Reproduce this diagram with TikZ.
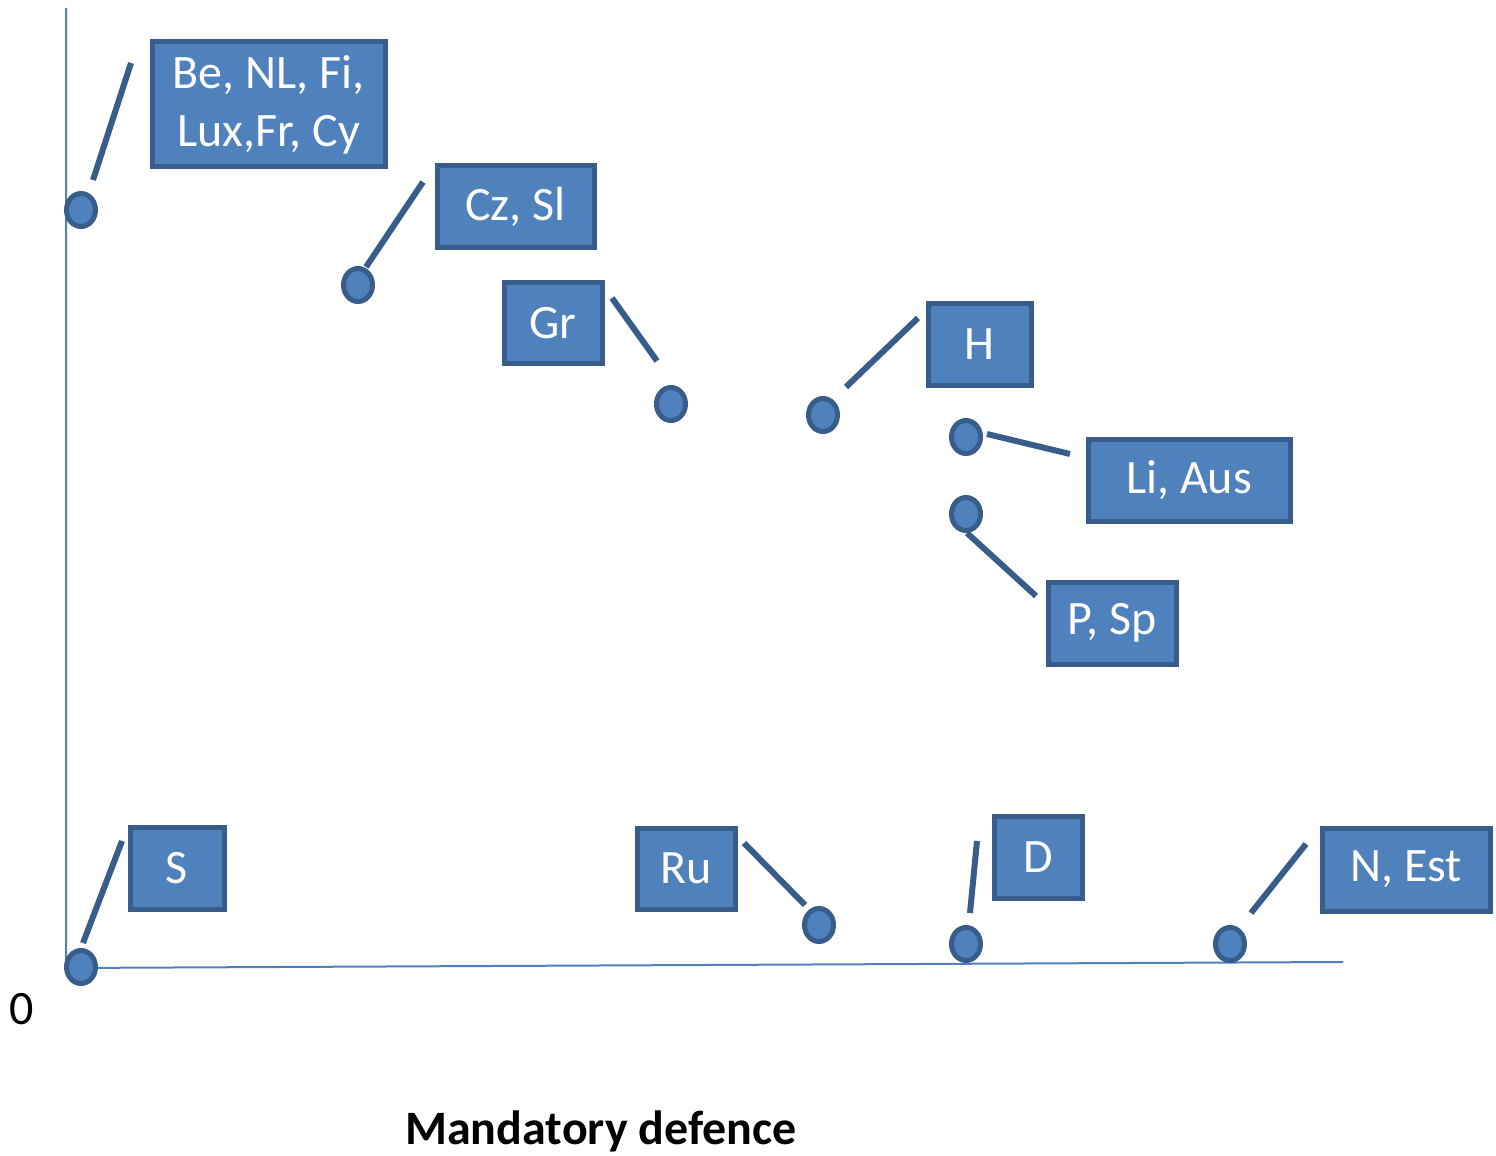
\documentclass[tikz,border=0pt]{standalone}
\usepackage{fontspec}
\setmainfont{Carlito}
\usetikzlibrary{shapes.geometric}
\definecolor{bfill}{RGB}{79,129,189}
\definecolor{bline}{RGB}{56,93,138}
\begin{document}
\begin{tikzpicture}[x=0.5pt,y=-0.5pt,
  box/.style={draw=bline,fill=bfill,line width=2.5pt,text=white,inner sep=0pt,align=center,
    font=\fontsize{24}{29}\selectfont},
  dot/.style={ellipse,draw=bline,fill=bfill,line width=2.5pt,minimum width=14.5pt,minimum height=16.5pt,inner sep=0pt},
  conn/.style={draw=bline,line width=3pt},
  axis/.style={draw=bfill,line width=1pt}]
\useasboundingbox (0,0) rectangle (1496,1156);
% axes
\coordinate (ytop) at (66,8);
\coordinate (orig) at (66,968);
\coordinate (xend) at (1343,962);
\draw[axis] (ytop) -- (orig) -- (xend);
% boxes
\node[box,minimum width=116.5pt,minimum height=62.5pt] (be) at (268.5,104.5) {Be, NL, Fi,\\Lux,Fr, Cy};
\node[box,minimum width=78.5pt,minimum height=41pt] (cz) at (515.5,207) {Cz, Sl};
\node[box,minimum width=49pt,minimum height=40pt] (gr) at (553,323) {Gr};
\node[box,minimum width=51.5pt,minimum height=41pt] (h) at (979.5,344) {H};
\node[box,minimum width=101pt,minimum height=41pt] (li) at (1189,480) {Li, Aus};
\node[box,minimum width=64pt,minimum height=41pt] (p) at (1112,623) {P, Sp};
\node[box,minimum width=47pt,minimum height=41pt] (s) at (177,868) {S};
\node[box,minimum width=49pt,minimum height=40.5pt] (ru) at (686,868.5) {Ru};
\node[box,minimum width=44pt,minimum height=41pt] (d) at (1038,857) {D};
\node[box,minimum width=84pt,minimum height=41.5pt] (n) at (1406,869.5) {N, Est};
% dots
\node[dot] (c1) at (81,210) {};
\node[dot] (c2) at (358,285) {};
\node[dot] (c3) at (671,404) {};
\node[dot] (c4) at (823,415) {};
\node[dot] (c5) at (966,437) {};
\node[dot] (c6) at (966,514) {};
\node[dot] (c7) at (81,967) {};
\node[dot] (c8) at (819,925) {};
\node[dot] (c9) at (966,944) {};
\node[dot] (c10) at (1230,944) {};
% connector ends
\coordinate (be1) at (131,63);  \coordinate (be2) at (93,180);
\coordinate (cz1) at (423,182); \coordinate (cz2) at (366,267);
\coordinate (gr1) at (612,298); \coordinate (gr2) at (657,361);
\coordinate (h1) at (918,318);  \coordinate (h2) at (846,387);
\coordinate (li1) at (987,434); \coordinate (li2) at (1070,454);
\coordinate (p1) at (967,533);  \coordinate (p2) at (1036,596);
\coordinate (s1) at (122,841);  \coordinate (s2) at (83,943);
\coordinate (ru1) at (744,843); \coordinate (ru2) at (805,905);
\coordinate (d1) at (977,841);  \coordinate (d2) at (970,913);
\coordinate (n1) at (1306,844); \coordinate (n2) at (1251,913);
\draw[conn] (be1) -- (be2);
\draw[conn] (cz1) -- (cz2);
\draw[conn] (gr1) -- (gr2);
\draw[conn] (h1) -- (h2);
\draw[conn] (li1) -- (li2);
\draw[conn] (p1) -- (p2);
\draw[conn] (s1) -- (s2);
\draw[conn] (ru1) -- (ru2);
\draw[conn] (d1) -- (d2);
\draw[conn] (n1) -- (n2);
% labels
\node[font=\fontsize{24}{29}\selectfont,inner sep=0pt] (zero) at (22,1009) {0};
\node[font=\fontsize{24}{29}\selectfont\bfseries,inner sep=0pt] (xl) at (601,1131) {Mandatory defence};
\end{tikzpicture}
\end{document}
